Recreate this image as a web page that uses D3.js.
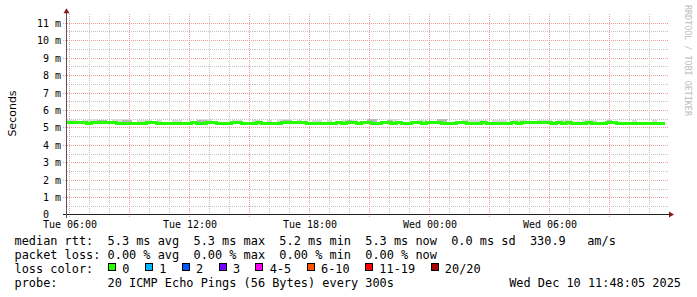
<!DOCTYPE html>
<html>
<head>
<meta charset="utf-8">
<script src="https://cdn.jsdelivr.net/npm/d3@7"></script>
<style>
  body { margin: 0; background: #fff; }
  svg text { font-family: "DejaVu Sans Mono", monospace; white-space: pre; }
</style>
</head>
<body>
<div id="chart"></div>
<script>
"use strict";

/* median rtt in ms, one value per 15 minutes */
var medianRtt = [
  5.27,5.27,5.27,5.27,5.22,5.27,5.27,5.27,5.27,5.27,
  5.22,5.22,5.23,5.22,5.22,5.23,5.27,5.27,5.22,5.22,
  5.23,5.22,5.22,5.22,5.23,5.27,5.22,5.22,5.27,5.27,
  5.22,5.23,5.22,5.27,5.27,5.22,5.23,5.22,5.27,5.22,
  5.22,5.23,5.22,5.27,5.28,5.27,5.27,5.27,5.22,5.22,
  5.23,5.22,5.22,5.22,5.27,5.22,5.27,5.27,5.22,5.27,
  5.27,5.22,5.22,5.27,5.27,5.22,5.27,5.22,5.22,5.27,
  5.27,5.22,5.27,5.27,5.27,5.22,5.22,5.23,5.27,5.27,
  5.22,5.22,5.23,5.27,5.22,5.22,5.23,5.22,5.22,5.27,
  5.22,5.27,5.27,5.27,5.27,5.27,5.27,5.22,5.27,5.22,
  5.27,5.22,5.22,5.23,5.27,5.22,5.22,5.22,5.27,5.27,
  5.22,5.22,5.23,5.22,5.22,5.22,5.22,5.23,5.22,5.22
];

/* upper edge of the light smoke (ms) */
var smokeHi = [
  5.42,5.42,5.33,5.44,5.48,5.48,5.45,5.45,5.33,5.47,
  5.47,5.47,5.47,5.33,5.44,5.44,5.44,5.33,5.42,5.33,
  5.33,5.45,5.45,5.33,5.33,5.33,5.47,5.47,5.47,5.33,
  5.33,5.33,5.33,5.43,5.43,5.33,5.33,5.44,5.44,5.33,
  5.42,5.33,5.47,5.47,5.47,5.33,5.41,5.33,5.33,5.42,
  5.42,5.33,5.42,5.33,5.33,5.44,5.44,5.44,5.33,5.33,
  5.50,5.50,5.33,5.33,5.46,5.46,5.33,5.33,5.33,5.33,
  5.42,5.42,5.33,5.33,5.50,5.50,5.33,5.33,5.33,5.42,
  5.42,5.42,5.43,5.43,5.33,5.42,5.42,5.42,5.33,5.44,
  5.44,5.44,5.33,5.33,5.45,5.45,5.45,5.33,5.44,5.44,
  5.44,5.33,5.33,5.42,5.42,5.42,5.33,5.33,5.46,5.33,
  5.33,5.33,5.33,5.42,5.33,5.33,5.33,5.42,5.33,5.33
];

/* upper edge of the darker smoke (ms) */
var smokeMid = [
  5.33,5.33,5.33,5.33,5.33,5.33,5.42,5.42,5.33,5.33,
  5.33,5.43,5.43,5.33,5.33,5.33,5.33,5.33,5.33,5.33,
  5.33,5.33,5.33,5.33,5.33,5.33,5.43,5.43,5.33,5.33,
  5.33,5.33,5.33,5.33,5.33,5.33,5.33,5.33,5.33,5.33,
  5.33,5.33,5.33,5.44,5.44,5.33,5.33,5.33,5.33,5.33,
  5.33,5.33,5.33,5.33,5.33,5.33,5.41,5.33,5.33,5.33,
  5.46,5.46,5.33,5.33,5.42,5.33,5.33,5.33,5.33,5.33,
  5.33,5.33,5.33,5.33,5.46,5.46,5.33,5.33,5.33,5.33,
  5.33,5.33,5.33,5.33,5.33,5.33,5.33,5.33,5.33,5.33,
  5.33,5.33,5.33,5.33,5.33,5.33,5.33,5.33,5.33,5.33,
  5.33,5.33,5.33,5.33,5.33,5.33,5.33,5.33,5.42,5.33,
  5.33,5.33,5.33,5.33,5.33,5.33,5.33,5.33,5.33,5.33
];

var yTickValues = [0,1,2,3,4,5,6,7,8,9,10,11];
var yTickLabels = ["0  "," 1 m"," 2 m"," 3 m"," 4 m"," 5 m"," 6 m"," 7 m"," 8 m"," 9 m","10 m","11 m"];
var xTickLabels = ["Tue 06:00","Tue 12:00","Tue 18:00","Wed 00:00","Wed 06:00"];

var lossLabels = ["0","1","2","3","4-5","6-10","11-19","20/20"];
var lossColors = ["#26ff00","#00b8ff","#0059ff","#7000ff","#ff00f0","#ff5500","#ff0000","#a10000"];

var rttLine = "median rtt:  5.3 ms avg  5.3 ms max  5.2 ms min  5.3 ms now  0.0 ms sd  330.9   am/s";
var lossLine = "packet loss: 0.00 % avg  0.00 % max  0.00 % min  0.00 % now";
var colorTitle = "loss color:";
var probeLine = "probe:       20 ICMP Echo Pings (56 Bytes) every 300s";
var stampText = "Wed Dec 10 11:48:05 2025";

var tStart = new Date(2025, 11, 9, 5, 51, 40);
var tEnd = new Date(2025, 11, 10, 11, 51, 40);
var lastUpdate = new Date(2025, 11, 10, 11, 48, 5);
var stepMs = 15 * 60 * 1000;

// == layout ==
var width = 697, height = 297;
var x0 = 66.5, plotW = 600, yBase = 214.7, plotH = 200;

var svg = d3.select("#chart")
            .append("svg")
            .attr("width", width)
            .attr("height", height)
            .style("display", "block");

svg.append("rect").attr("width", width).attr("height", height).attr("fill", "#fff");

var x = d3.scaleTime().domain([tStart, tEnd]).range([x0, x0 + plotW]);
var y = d3.scaleLinear().domain([0, 11.46]).range([yBase, yBase - plotH]);
var plotTop = yBase - plotH;

function crisp(v) { return Math.round(v) + 0.5; }

var grid = svg.append("g").attr("shape-rendering", "crispEdges");

// horizontal grid: minor every 0.5 ms, major every 1 ms
d3.range(1, 23).forEach(function(k) {
  var v = k / 2, major = (k % 2 === 0);
  grid.append("line")
      .attr("x1", major ? x0 - 4 : x0)
      .attr("x2", x0 + plotW + 2)
      .attr("y1", crisp(y(v)))
      .attr("y2", crisp(y(v)))
      .attr("stroke", major ? "#f09a9a" : "#c4c4c4")
      .attr("stroke-dasharray", "1,1");
});

// vertical grid: every hour, major every 3 hours
var hours = d3.timeHour.range(tStart, tEnd);
hours.forEach(function(h) {
  var major = (h.getHours() % 3 === 0);
  grid.append("line")
      .attr("x1", crisp(x(h)))
      .attr("x2", crisp(x(h)))
      .attr("y1", plotTop - 1)
      .attr("y2", major ? yBase + 3 : yBase)
      .attr("stroke", major ? "#f09a9a" : "#c4c4c4")
      .attr("stroke-dasharray", "1,1");
});

// samples
var samples = medianRtt.map(function(v, i) {
  return { t: new Date(+tStart + i * stepMs), med: v, hi: smokeHi[i], mid: smokeMid[i] };
});
var lastS = samples[samples.length - 1];
samples.push({ t: lastUpdate, med: lastS.med, hi: lastS.hi, mid: lastS.mid });

var smokeLight = d3.area()
    .curve(d3.curveStepAfter)
    .x(function(d) { return x(d.t); })
    .y0(function(d) { return y(d.med); })
    .y1(function(d) { return y(d.hi); });

var smokeDark = d3.area()
    .curve(d3.curveStepAfter)
    .x(function(d) { return x(d.t); })
    .y0(function(d) { return y(d.med); })
    .y1(function(d) { return y(d.mid); });

svg.append("path").datum(samples)
   .attr("d", smokeLight)
   .attr("fill", "#dadada")
   .attr("shape-rendering", "crispEdges");

svg.append("path").datum(samples)
   .attr("d", smokeDark)
   .attr("fill", "#bababa")
   .attr("shape-rendering", "crispEdges");

var medLine = d3.line()
    .curve(d3.curveStepAfter)
    .x(function(d) { return x(d.t); })
    .y(function(d) { return y(d.med); });

svg.append("path").datum(samples)
   .attr("d", medLine)
   .attr("fill", "none")
   .attr("stroke", lossColors[0])
   .attr("stroke-width", 3)
   .attr("shape-rendering", "crispEdges");

// axes
var axisY = Math.floor(yBase) + 0.5;
var axes = svg.append("g").attr("shape-rendering", "crispEdges");
axes.append("line")
    .attr("x1", x0 - 4).attr("x2", x0 + plotW + 3)
    .attr("y1", axisY).attr("y2", axisY)
    .attr("stroke", "#222");
axes.append("line")
    .attr("x1", x0).attr("x2", x0)
    .attr("y1", yBase + 3).attr("y2", plotTop - 3)
    .attr("stroke", "#555");

svg.append("path")
   .attr("d", "M" + (x0 - 3) + "," + (plotTop - 1.5) + "L" + (x0 + 3) + "," + (plotTop - 1.5) + "L" + x0 + "," + (plotTop - 6.5) + "Z")
   .attr("fill", "#7f1f1f");
svg.append("path")
   .attr("d", "M" + (x0 + plotW + 2.5) + "," + (axisY - 3) + "L" + (x0 + plotW + 2.5) + "," + (axisY + 3) + "L" + (x0 + plotW + 7.5) + "," + axisY + "Z")
   .attr("fill", "#7f1f1f");

// y labels
svg.append("g").selectAll("text")
   .data(yTickValues)
   .enter().append("text")
   .attr("x", 61)
   .attr("y", function(d) { return d === 0 ? 218 : Math.round(y(d)) + 4; })
   .attr("text-anchor", "end")
   .attr("font-size", "10px")
   .attr("fill", "#000")
   .text(function(d, i) { return yTickLabels[i]; });

// x labels
var labelHours = hours.filter(function(h) { return h.getHours() % 6 === 0; });
svg.append("g").selectAll("text")
   .data(labelHours)
   .enter().append("text")
   .attr("x", function(d) { return x(d) + 0.7; })
   .attr("y", 228)
   .attr("text-anchor", "middle")
   .attr("font-size", "10px")
   .attr("fill", "#000")
   .text(function(d, i) { return xTickLabels[i]; });

// axis title
svg.append("text")
   .attr("transform", "translate(15.5,113.5) rotate(-90)")
   .attr("text-anchor", "middle")
   .attr("font-size", "11px")
   .style("font-family", "'DejaVu Sans', sans-serif")
   .attr("fill", "#000")
   .text("Seconds");

// watermark
svg.append("text")
   .attr("transform", "translate(685,5) rotate(90)")
   .attr("font-size", "8.4px")
   .attr("fill", "#bcbcbc")
   .text("RRDTOOL / TOBI OETIKER");

// == legend ==
var charW = 7.167;
var legendX = 14.5;
var rowBase = [245.4, 259, 272.8, 286.6];

var legend = svg.append("g").attr("font-size", "11.9px").attr("fill", "#000");

legend.append("text").attr("x", legendX).attr("y", rowBase[0]).text(rttLine);
legend.append("text").attr("x", legendX).attr("y", rowBase[1]).text(lossLine);
legend.append("text").attr("x", legendX).attr("y", rowBase[2]).text(colorTitle);

var bx = 108;
lossLabels.forEach(function(lbl, i) {
  legend.append("rect")
        .attr("x", bx + 0.5).attr("y", rowBase[2] - 9)
        .attr("width", 7).attr("height", 7)
        .attr("fill", lossColors[i])
        .attr("stroke", "#000")
        .attr("stroke-width", 1)
        .attr("shape-rendering", "crispEdges");
  legend.append("text").attr("x", bx + 14.3).attr("y", rowBase[2]).text(lbl);
  bx += 15 + lbl.length * charW + 14.7;
});

legend.append("text").attr("x", legendX).attr("y", rowBase[3]).text(probeLine);
legend.append("text").attr("x", 681).attr("y", rowBase[3]).attr("text-anchor", "end").text(stampText);
</script>
</body>
</html>
